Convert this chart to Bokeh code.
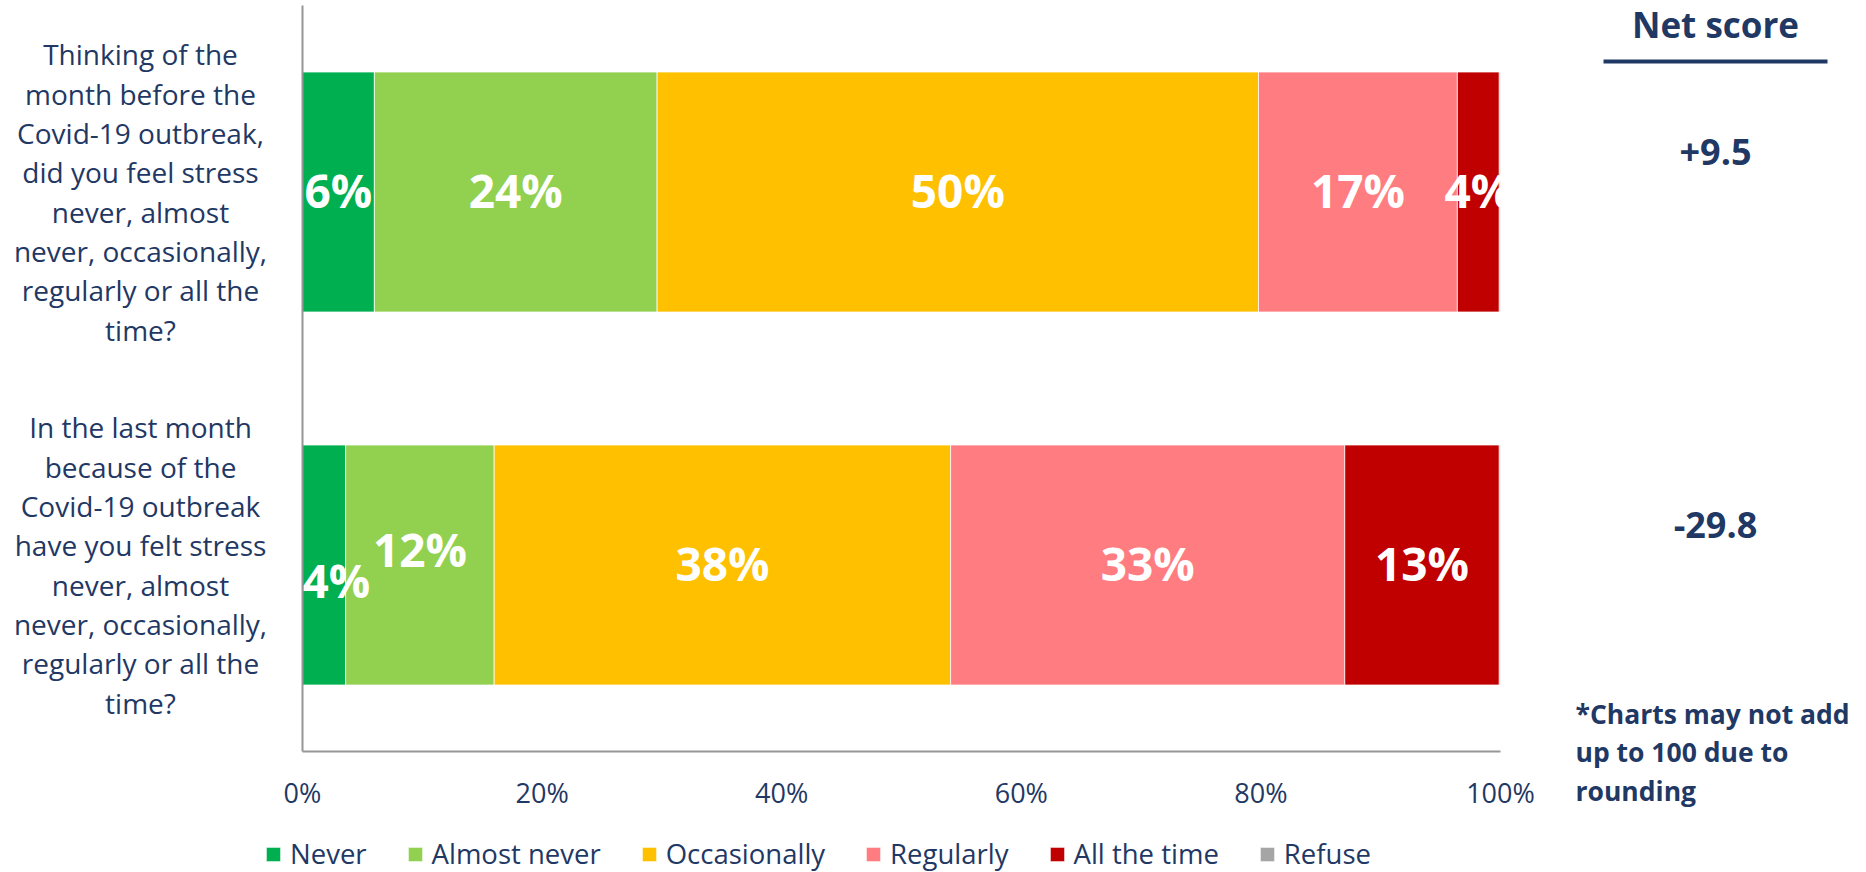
from bokeh.plotting import figure
from bokeh.models import (ColumnDataSource, Range1d, LinearAxis, Legend,
                          LegendItem, FixedTicker)
from bokeh.core.properties import value
from bokeh.embed import file_html
from bokeh.resources import INLINE

# ---------------- data ----------------
categories = ["Never", "Almost never", "Occasionally", "Regularly", "All the time", "Refuse"]
colors = ["#00B050", "#92D050", "#FFC000", "#FF7C80", "#C00000", "#A5A5A5"]

question_1_lines = ["Thinking of the", "month before the", "Covid-19 outbreak,",
                    "did you feel stress", "never, almost", "never, occasionally,",
                    "regularly or all the", "time?"]
question_2_lines = ["In the last month", "because of the", "Covid-19 outbreak",
                    "have you felt stress", "never, almost", "never, occasionally,",
                    "regularly or all the", "time?"]

never = [6.0, 3.6]
almost_never = [23.6, 12.4]
occasionally = [50.2, 38.1]
regularly = [16.6, 32.9]
all_the_time = [3.5, 12.9]
refuse = [0.1, 0.1]

net_scores = ["+9.5", "-29.8"]
net_header = "Net score"
tick_values = [0, 20, 40, 60, 80, 100]
tick_labels = ["0%", "20%", "40%", "60%", "80%", "100%"]
footnote_lines = ["*Charts may not add", "up to 100 due to", "rounding"]

# ---------------- layout constants ----------------
NAVY = "#1F3864"
AXIS_GRAY = "#969696"
FONT = "Open Sans"
W, H = 1866, 872
X0_PX, X100_PX = 302, 1500          # canvas x of 0% and 100%
PX_PER_UNIT = (X100_PX - X0_PX) / 100.0
CAT_PX = 373.0                       # pixels per category slot
TOP_CENTER_PX = 191.5                # canvas y of the first category centre


def px2x(px):
    return (px - X0_PX) / PX_PER_UNIT


def py2y(py):
    return 1.0 + (TOP_CENTER_PX - py) / CAT_PX


question_lists = [question_1_lines, question_2_lines]
n_q = len(question_lists)
ypos = [n_q - 1 - i for i in range(n_q)]          # first question on top
series = [never, almost_never, occasionally, regularly, all_the_time, refuse]

data = {"y": ypos}
for name, vals in zip(categories, series):
    data[name] = vals
source = ColumnDataSource(data)

p = figure(width=W, height=H, output_backend="svg", toolbar_location=None,
           x_range=Range1d(px2x(0), px2x(W)),
           y_range=Range1d(py2y(H), py2y(0)),
           x_axis_location=None, y_axis_location=None,
           min_border_left=0, min_border_right=0, min_border_top=0,
           min_border_bottom=0)
p.outline_line_color = None
p.xgrid.visible = False
p.ygrid.visible = False

renderers = p.hbar_stack(categories, y="y", height=240.0 / CAT_PX, color=colors,
                         line_color="white", line_width=0.75, source=source)

# ---- value labels (nudged like the original when a segment is too narrow) ----
LABEL_DY = -2
LABEL_CHAR_PX = 32.0
lx, ly, lt, la, lo = [], [], [], [], []
for qi in range(n_q):
    start = 0.0
    row = []
    for ci, vals in enumerate(series):
        v = vals[qi]
        if categories[ci] != "Refuse":
            t = "%d%%" % int(v + 0.5)
            w = len(t) * LABEL_CHAR_PX / PX_PER_UNIT
            cx = start + v / 2.0
            if cx - w / 2.0 < 0:
                row.append([0.0, "left", 0.0, w, t, LABEL_DY])
            else:
                row.append([cx, "center", cx - w / 2.0, cx + w / 2.0, t, LABEL_DY])
        start += v
    for a, b in zip(row[:-1], row[1:]):
        if a[3] + 1.0 > b[2]:
            a[5] += 17
            b[5] -= 14
    for x, al, _, _, t, off in row:
        lx.append(x)
        ly.append(ypos[qi])
        lt.append(t)
        la.append(al)
        lo.append(off)
p.text(x="x", y="y", text="t", text_align="a", y_offset="o",
       source=ColumnDataSource(dict(x=lx, y=ly, t=lt, a=la, o=lo)),
       text_font=value(FONT), text_font_size=value("46px"), text_font_style="bold",
       text_color="white", text_baseline="middle")

# ---- question texts ----
qx, qy, qo, qt = [], [], [], []
LINE_PITCH = 39.3
for yq, lines in zip(ypos, question_lists):
    n = len(lines)
    for i, line in enumerate(lines):
        qx.append(px2x(140))
        qy.append(yq)
        qo.append((i - (n - 1) / 2.0) * LINE_PITCH)
        qt.append(line)
p.text(x="x", y="y", y_offset="o", text="t",
       source=ColumnDataSource(dict(x=qx, y=qy, o=qo, t=qt)),
       text_font=value(FONT), text_font_size=value("28px"), text_color=NAVY,
       text_align="center", text_baseline="middle")

# ---- net score column ----
p.text(x=[px2x(1715)], y=[py2y(0)], text=[net_header],
       text_font=value(FONT), text_font_size=value("35px"), text_font_style="bold",
       text_color=NAVY, text_align="center", text_baseline="top")
p.segment(x0=[px2x(1603)], x1=[px2x(1827)], y0=[py2y(61)], y1=[py2y(61)],
          line_color=NAVY, line_width=4)
p.text(x=[px2x(1715)] * n_q, y=ypos, text=net_scores, y_offset=-40,
       text_font=value(FONT), text_font_size=value("36px"), text_font_style="bold",
       text_color=NAVY, text_align="center", text_baseline="middle")

# ---- footnote ----
FOOT_PITCH = 38.5
p.text(x=[px2x(1575)] * len(footnote_lines),
       y=[py2y(713 + i * FOOT_PITCH) for i in range(len(footnote_lines))],
       text=footnote_lines,
       text_font=value(FONT), text_font_size=value("26.5px"), text_font_style="bold",
       text_color=NAVY, text_align="left", text_baseline="middle")

# ---- axes ----
ya = LinearAxis(fixed_location=0, bounds=(-0.5, n_q - 0.5), ticker=FixedTicker(ticks=[]),
                axis_line_color=AXIS_GRAY, axis_line_width=2,
                major_tick_line_color=None, minor_tick_line_color=None)
p.add_layout(ya, "left")

xa = LinearAxis(fixed_location=-0.5, bounds=(0, 100), ticker=FixedTicker(ticks=tick_values),
                major_label_overrides={t: l for t, l in zip(tick_values, tick_labels)},
                axis_line_color=AXIS_GRAY, axis_line_width=2,
                major_tick_line_color=None, minor_tick_line_color=None,
                major_tick_out=0, major_tick_in=0, major_label_standoff=22,
                major_label_text_font=FONT, major_label_text_font_size="27px",
                major_label_text_color=NAVY)
p.add_layout(xa, "below")

# ---- legend ----
legend = Legend(items=[LegendItem(label=c, renderers=[r]) for c, r in zip(categories, renderers)],
                orientation="horizontal", location=(264, 0),
                glyph_width=18, glyph_height=18, label_standoff=8, spacing=39,
                padding=0, margin=0, border_line_color=None, background_fill_alpha=0,
                label_text_font=FONT, label_text_font_size="27.5px", label_text_color=NAVY)
p.add_layout(legend)

open("out.html", "w").write(file_html(p, INLINE))
